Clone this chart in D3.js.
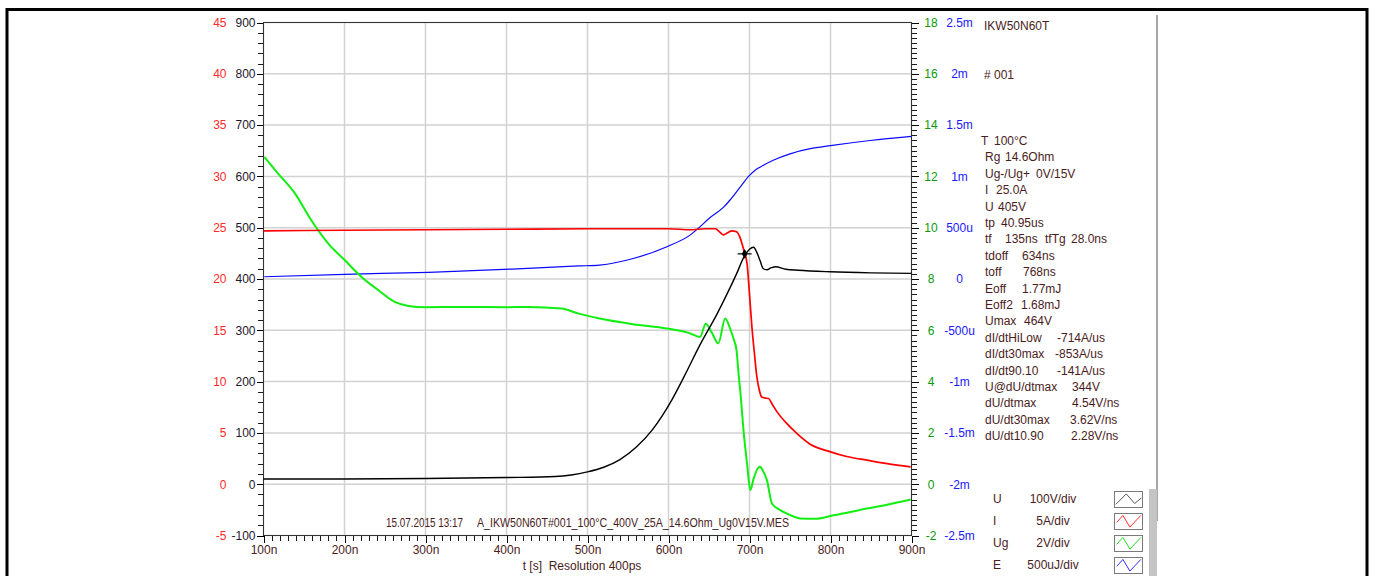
<!DOCTYPE html>
<html>
<head>
<meta charset="utf-8">
<script src="https://cdn.jsdelivr.net/npm/d3@7"></script>
<style>
  body { margin: 0; background: #fff; }
  svg text { font-family: "Liberation Sans", Arial, sans-serif; font-size: 12px; }
</style>
</head>
<body>
<svg id="chart" width="1375" height="576"></svg>
<script>
/// Data ///
// U (black), volts
const uT = [100, 200, 300, 400, 460, 480, 500, 520, 540, 560, 580, 604, 620, 639, 660, 672, 684, 693.5, 700, 705, 709, 713, 717, 721.5, 727, 732, 745, 760, 800, 850, 900];
const uV = [10, 10, 11, 13, 15, 18, 24, 33, 48, 72, 106, 164, 212, 272, 332, 370, 410, 444, 458, 462, 452, 436, 420, 418, 422, 424, 419, 417, 414, 412, 411];
// I (red), amps
const iT = [100, 200, 300, 400, 500, 600, 627, 645, 658, 663, 668, 673, 678, 684, 688, 693, 697, 700, 703, 706, 709, 712, 715, 719, 723.5, 728, 734, 745, 758.7, 775, 800, 820, 845, 870, 899];
const iA = [24.7, 24.75, 24.8, 24.85, 24.9, 24.9, 24.8, 24.9, 24.9, 24.6, 24.3, 24.5, 24.7, 24.6, 24.1, 22.8, 21.5, 18.5, 15.3, 12.8, 10.5, 9.2, 8.5, 8.4, 8.35, 7.8, 7.05, 6.0, 4.94, 3.9, 3.15, 2.7, 2.34, 2.0, 1.69];
// Ug (green), volts
const ugT = [101, 118, 139, 159, 180, 200.5, 221, 242, 262, 279, 300, 345, 400, 427, 468, 489, 515, 556, 598, 625, 639, 646, 653, 661.5, 670, 676, 681, 684, 686.5, 689, 692.6, 697, 701, 705, 709, 713, 717, 721.5, 727.7, 738, 750, 763, 780, 804, 845, 870, 899];
const ugV = [12.76, 12.11, 11.33, 10.29, 9.38, 8.73, 8.08, 7.56, 7.11, 6.95, 6.9, 6.91, 6.9, 6.91, 6.85, 6.65, 6.46, 6.24, 6.07, 5.9, 5.74, 6.26, 5.94, 5.49, 6.46, 6.07, 5.6, 5.22, 4.3, 3.5, 2.1, 0.8, -0.23, 0.2, 0.55, 0.68, 0.5, 0.16, -0.75, -1.01, -1.2, -1.34, -1.35, -1.21, -0.95, -0.8, -0.6];
// E (blue), mJ
const eT = [101, 200, 304, 407, 489, 515, 556.5, 598, 627, 639, 650, 668, 676, 688, 700, 707, 713, 730, 750, 775, 800, 849, 900];
const eMJ = [0.022, 0.046, 0.065, 0.097, 0.127, 0.136, 0.2, 0.315, 0.43, 0.51, 0.59, 0.70, 0.77, 0.89, 1.01, 1.06, 1.09, 1.16, 1.22, 1.27, 1.30, 1.35, 1.39];

// marker on U curve
const markT = [694];
const markV = [449];

// ticks
const tTicks = [100, 200, 300, 400, 500, 600, 700, 800, 900];
const uTicks = [-100, 0, 100, 200, 300, 400, 500, 600, 700, 800, 900];
const iTicks = [-5, 0, 5, 10, 15, 20, 25, 30, 35, 40, 45];
const ugTicks = [-2, 0, 2, 4, 6, 8, 10, 12, 14, 16, 18];
const eTicks = [-2.5, -2, -1.5, -1, -0.5, 0, 0.5, 1, 1.5, 2, 2.5];
const eTickLabels = ["-2.5m", "-2m", "-1.5m", "-1m", "-500u", "0", "500u", "1m", "1.5m", "2m", "2.5m"];

// parameter panel
const paramLabels = ["T", "Rg", "Ug-/Ug+", "I", "U", "tp", "tf", "tdoff", "toff", "Eoff", "Eoff2", "Umax",
  "dI/dtHiLow", "dI/dt30max", "dI/dt90.10", "U@dU/dtmax", "dU/dtmax", "dU/dt30max", "dU/dt10.90"];
const paramValues = ["100°C", "14.6Ohm", "0V/15V", "25.0A", "405V", "40.95us", "135ns", "634ns", "768ns", "1.77mJ", "1.68mJ", "464V",
  "-714A/us", "-853A/us", "-141A/us", "344V", "4.54V/ns", "3.62V/ns", "2.28V/ns"];

// legend
const legendNames = ["U", "I", "Ug", "E"];
const legendScales = ["100V/div", "5A/div", "2V/div", "500uJ/div"];

/// Layout ///
const svg = d3.select("#chart");
const L = 263.5, R = 911.5, T = 22.5, B = 535.5;

const x = d3.scaleLinear().domain([100, 900]).range([L, R]);
const yU = d3.scaleLinear().domain([-100, 900]).range([B, T]);
const yI = d3.scaleLinear().domain([-5, 45]).range([B, T]);
const yUg = d3.scaleLinear().domain([-2, 18]).range([B, T]);
const yE = d3.scaleLinear().domain([-2.5, 2.5]).range([B, T]);

const labelCol = "#4a1c1c";
const plain = d => String(d);

// outer frame
svg.append("rect").attr("x", 7).attr("y", 9.5).attr("width", 1360).attr("height", 600)
  .attr("fill", "none").attr("stroke", "#000").attr("stroke-width", 3);

// grid
const grid = svg.append("g").attr("stroke", "#d2d2d2").attr("stroke-width", 1.5);
grid.selectAll(".v").data(tTicks).enter().append("line")
  .attr("x1", d => x(d)).attr("x2", d => x(d)).attr("y1", T).attr("y2", B);
grid.selectAll(".h").data(uTicks).enter().append("line")
  .attr("x1", L).attr("x2", R).attr("y1", d => yU(d)).attr("y2", d => yU(d));

// minor ticks as one path per axis
let dl = "", dr = "", db = "";
d3.range(-100, 901, 20).forEach(v => { const yy = Math.round(yU(v)) + 0.5; dl += `M258,${yy}H263`; });
d3.range(-2, 18.01, 0.2).forEach(v => { const yy = Math.round(yUg(v)) + 0.5; dr += `M912,${yy}H917`; });
d3.range(100, 901, 10).forEach(v => { const xx = Math.round(x(v)) + 0.5; db += `M${xx},536V541`; });
svg.append("path").attr("d", dl + dr + db).attr("fill", "none").attr("stroke", "#1a1a1a").attr("stroke-width", 1);

// axes helper
function styleAxis(g, col) {
  g.select(".domain").remove();
  g.selectAll("line").attr("stroke", "#000").attr("stroke-width", 1).attr("shape-rendering", "crispEdges");
  g.selectAll("text").attr("fill", col).style("font-size", "12px").style("font-family", "Liberation Sans, Arial, sans-serif");
}

// left black U axis
const gU = svg.append("g").attr("transform", `translate(${L},0)`)
  .call(d3.axisLeft(yU).tickValues(uTicks).tickSize(7).tickPadding(1).tickFormat(plain));
styleAxis(gU, "#1c1630");

// left red I axis
const gI = svg.append("g").attr("transform", `translate(${L},0)`)
  .call(d3.axisLeft(yI).tickValues(iTicks).tickSize(0).tickPadding(37).tickFormat(plain));
styleAxis(gI, "#ff2a2a");

// right green Ug axis
const gUg = svg.append("g").attr("transform", `translate(${R},0)`)
  .call(d3.axisRight(yUg).tickValues(ugTicks).tickSize(7).tickFormat(plain));
styleAxis(gUg, "#0a9a0a");
gUg.selectAll("text").attr("text-anchor", "middle").attr("x", 19.5);

// right blue E axis
const gE = svg.append("g").attr("transform", `translate(${R},0)`)
  .call(d3.axisRight(yE).tickValues(eTicks).tickSize(0).tickFormat((d, i) => eTickLabels[i]));
styleAxis(gE, "#1a1aff");
gE.selectAll("text").attr("text-anchor", "middle").attr("x", 48);

// bottom time axis
const gT = svg.append("g").attr("transform", `translate(0,${B})`)
  .call(d3.axisBottom(x).tickValues(tTicks).tickSize(7).tickPadding(3).tickFormat(d => d + "n"));
styleAxis(gT, labelCol);

// plot border
svg.append("rect").attr("x", L).attr("y", T).attr("width", R - L).attr("height", B - T)
  .attr("fill", "none").attr("stroke", "#333").attr("stroke-width", 1);

/// Curves ///
const plot = svg.append("g");
function drawSeries(ts, vs, yScale, col, w) {
  const line = d3.line().x(d => x(d[0])).y(d => yScale(d[1])).curve(d3.curveMonotoneX);
  plot.append("path").datum(d3.zip(ts, vs)).attr("d", line)
    .attr("fill", "none").attr("stroke", col).attr("stroke-width", w).attr("stroke-linejoin", "round");
}
drawSeries(eT, eMJ, yE, "#0a0aff", 1.2);
drawSeries(ugT, ugV, yUg, "#11ee11", 2);
drawSeries(iT, iA, yI, "#ff0000", 1.7);
drawSeries(uT, uV, yU, "#000000", 1.4);

// marker
const mk = svg.append("g").attr("transform", `translate(${x(markT[0])},${yU(markV[0])})`);
mk.append("line").attr("x1", -7).attr("x2", 7).attr("stroke", "#000").attr("stroke-width", 1.2);
mk.append("path").attr("d", d3.symbol(d3.symbolDiamond, 28)).attr("fill", "#000");

/// Texts ///
svg.append("text").attr("x", 386).attr("y", 527).attr("fill", labelCol)
  .attr("textLength", 77).attr("lengthAdjust", "spacingAndGlyphs").text("15.07.2015 13:17");
svg.append("text").attr("x", 477).attr("y", 527).attr("fill", labelCol)
  .attr("textLength", 312).attr("lengthAdjust", "spacingAndGlyphs")
  .text("A_IKW50N60T#001_100°C_400V_25A_14.6Ohm_Ug0V15V.MES");
svg.append("text").attr("x", 582).attr("y", 570).attr("text-anchor", "middle").attr("fill", labelCol)
  .style("white-space", "pre").text("t [s]  Resolution 400ps");

// header
svg.append("text").attr("x", 984).attr("y", 30).attr("fill", labelCol).text("IKW50N60T");
svg.append("text").attr("x", 984).attr("y", 79).attr("fill", labelCol).text("# 001");

// parameter list
const labelX = [981, 985, 985, 985, 985, 985, 985, 985, 985, 985, 985, 985, 985, 985, 985, 985, 985, 985, 985];
const valueX = [994, 1005, 1036, 996, 998, 1001, 1005, 1022, 1023, 1022, 1021, 1024, 1057, 1055, 1057, 1072, 1072, 1070, 1071];
const pg = svg.append("g").attr("fill", labelCol);
paramLabels.forEach((s, i) => {
  const yy = 145 + i * 16.4;
  pg.append("text").attr("x", labelX[i]).attr("y", yy).text(s);
  pg.append("text").attr("x", valueX[i]).attr("y", yy).text(paramValues[i]);
});
pg.append("text").attr("x", 1045).attr("y", 145 + 6 * 16.4).text("tfTg");
pg.append("text").attr("x", 1071).attr("y", 145 + 6 * 16.4).text("28.0ns");

// legend
const legCols = ["#555", "#ff3030", "#22dd22", "#3030ff"];
const zigBlack = [[0.05, 0.8], [0.42, 0.15], [0.72, 0.75], [0.96, 0.4]];
const zigCol = [[0.08, 0.55], [0.3, 0.12], [0.55, 0.85], [0.94, 0.12]];
legendNames.forEach((n, i) => {
  const yy = 491 + i * 22;
  svg.append("text").attr("x", 993).attr("y", yy + 12).attr("fill", labelCol).text(n);
  svg.append("text").attr("x", 1053).attr("y", yy + 12).attr("text-anchor", "middle").attr("fill", labelCol).text(legendScales[i]);
  svg.append("rect").attr("x", 1114.5).attr("y", yy + 0.5).attr("width", 28).attr("height", 16)
    .attr("fill", "#fff").attr("stroke", "#7a7a7a");
  const pts = (i === 0 ? zigBlack : zigCol).map(p => [1114.5 + p[0] * 28, yy + 0.5 + p[1] * 16]);
  svg.append("path").attr("d", d3.line()(pts)).attr("fill", "none").attr("stroke", legCols[i]).attr("stroke-width", 1);
});

// separator and scrollbar
svg.append("line").attr("x1", 1157).attr("x2", 1157).attr("y1", 15).attr("y2", 521)
  .attr("stroke", "#8a8a8a").attr("stroke-width", 1.5);
svg.append("rect").attr("x", 1149).attr("y", 489).attr("width", 8).attr("height", 90).attr("fill", "#c4c4c4");
</script>
</body>
</html>
